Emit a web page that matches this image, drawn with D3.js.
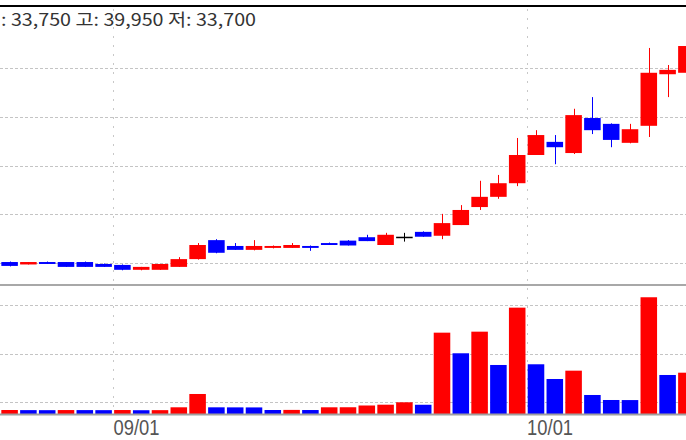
<!DOCTYPE html>
<html>
<head>
<meta charset="utf-8">
<script src="https://cdn.jsdelivr.net/npm/d3@7"></script>
<style>
body { margin: 0; background: #fff; }
svg { display: block; }
</style>
</head>
<body>
<div id="chart"></div>
<script>
//Constants for the SVG
var width = 686, height = 440;

//Trading days shown (last days of Aug, all of Sep, first days of Oct)
var dates = ["08/24", "08/25", "08/26", "08/27", "08/28", "08/31",
    "09/01", "09/02", "09/03", "09/04", "09/07", "09/08", "09/09", "09/10", "09/11",
    "09/14", "09/15", "09/16", "09/17", "09/18", "09/21", "09/22", "09/23", "09/24",
    "09/25", "09/28", "09/29", "09/30",
    "10/01", "10/05", "10/06", "10/07", "10/08", "10/09", "10/12", "10/13", "10/14"];
var openP  = [15100, 14850, 15100, 15100, 15100, 14900, 14800, 14300, 14300, 14600, 15400, 17350, 16750, 16350, 16550, 16550, 16750, 17050, 17300, 17650, 16850, 17700, 18200, 17800, 18900, 20750, 21800, 23200, 26100, 27450, 26300, 29900, 29300, 27350, 29100, 34400, 34550];
var highP  = [15150, 15100, 15150, 15100, 15150, 14950, 14850, 14600, 14900, 15600, 17050, 17450, 17050, 17350, 16800, 17050, 16800, 17100, 17350, 17900, 18100, 18100, 18250, 20050, 20950, 23450, 24050, 27850, 28650, 28150, 30850, 32050, 29350, 29300, 37100, 35350, 39950];
var lowP   = [14650, 14850, 14900, 14600, 14600, 14600, 14250, 14250, 14300, 14600, 15350, 16000, 16350, 16300, 16500, 16550, 16250, 16850, 16800, 17250, 16850, 17200, 17700, 17450, 18900, 20450, 21600, 22900, 26100, 25150, 26200, 28250, 26900, 27300, 27950, 32050, 33700];
var closeP = [14700, 15100, 14900, 14600, 14600, 14600, 14300, 14600, 14900, 15400, 16850, 16050, 16350, 16750, 16750, 16850, 16550, 16850, 16800, 17250, 17900, 17700, 17700, 19100, 20450, 21800, 23200, 26100, 28150, 26900, 30200, 28650, 27650, 28750, 34550, 34850, 37300];
var volumes = [18500, 18000, 17800, 18300, 18100, 17900, 18400, 17600, 17900, 29600, 84300, 29500, 29300, 29100, 18500, 18900, 18400, 29600, 29800, 37000, 40300, 50200, 40000, 336300, 251600, 340400, 203500, 439100, 206400, 145900, 180100, 80200, 59600, 59300, 481800, 162400, 171800];

//Grid values and labels
var priceTicks = [15000, 20000, 25000, 30000, 35000];
var volumeTicks = [50000, 250000, 450000];
var dateTicks = ["09/01", "10/01"];
//header values (open label is cut off at the left edge in the picture)
var headerLabels = ["", "고", "저"];
var headerValues = [33750, 39950, 33700];

var RED = "#ff0000", BLUE = "#0000ff";

var svg = d3.select("#chart").append("svg")
    .attr("width", width)
    .attr("height", height);

svg.append("rect").attr("width", width).attr("height", height).attr("fill", "#fff");

//scales
var x = d3.scaleBand()
    .domain(dates)
    .range([0.2, 0.2 + 18.8 * dates.length])
    .paddingInner(0.12)
    .paddingOuter(0.06);
var slotEdge = function(d) { return x(d) - x.step() * 0.06; };

var y = d3.scaleLinear().domain([15000, 35000]).range([263, 68.4]);
var yv = d3.scaleLinear().domain([0, 450000]).range([414.5, 305]);

//grid lines
var grid = svg.append("g").attr("class", "grid");
grid.selectAll("line.hp")
    .data(priceTicks)
    .enter().append("line")
    .attr("x1", 0).attr("x2", width)
    .attr("y1", function(d) { return Math.round(y(d)) + 0.5; })
    .attr("y2", function(d) { return Math.round(y(d)) + 0.5; })
    .attr("stroke", "#c4c4c4")
    .attr("stroke-dasharray", "3,2");
grid.selectAll("line.hv")
    .data(volumeTicks)
    .enter().append("line")
    .attr("x1", 0).attr("x2", width)
    .attr("y1", function(d) { return Math.round(yv(d)) + 0.5; })
    .attr("y2", function(d) { return Math.round(yv(d)) + 0.5; })
    .attr("stroke", "#c4c4c4")
    .attr("stroke-dasharray", "3,2");
grid.selectAll("line.v")
    .data(dateTicks)
    .enter().append("line")
    .attr("x1", function(d) { return Math.round(slotEdge(d)) + 0.5; })
    .attr("x2", function(d) { return Math.round(slotEdge(d)) + 0.5; })
    .attr("y1", 9).attr("y2", 414)
    .attr("stroke", "#c8c8c8")
    .attr("stroke-dasharray", "2,7");

//candles
function candleColor(i) {
    if (closeP[i] > openP[i]) return RED;
    if (closeP[i] < openP[i]) return BLUE;
    return "#000";
}
var candles = svg.append("g").attr("class", "candles")
    .selectAll("g")
    .data(dates)
    .enter().append("g");

candles.append("line")
    .attr("x1", function(d) { return Math.round(x(d) + x.bandwidth() / 2) + 0.5; })
    .attr("x2", function(d) { return Math.round(x(d) + x.bandwidth() / 2) + 0.5; })
    .attr("y1", function(d, i) { return y(highP[i]); })
    .attr("y2", function(d, i) { return y(lowP[i]); })
    .attr("stroke", function(d, i) { return candleColor(i); });

candles.append("rect")
    .attr("x", function(d) { return x(d); })
    .attr("width", x.bandwidth())
    .attr("y", function(d, i) { return y(Math.max(openP[i], closeP[i])); })
    .attr("height", function(d, i) { return Math.max(1.5, Math.abs(y(openP[i]) - y(closeP[i]))); })
    .attr("fill", function(d, i) { return candleColor(i); });

//volume bars, coloured by change against the previous day
svg.append("g").attr("class", "volume")
    .selectAll("rect")
    .data(dates)
    .enter().append("rect")
    .attr("x", function(d) { return x(d); })
    .attr("width", x.bandwidth())
    .attr("y", function(d, i) { return yv(volumes[i]); })
    .attr("height", function(d, i) { return yv(0) - yv(volumes[i]); })
    .attr("fill", function(d, i) { return (i == 0 || volumes[i] > volumes[i - 1]) ? RED : BLUE; });

//frame lines
svg.append("line").attr("x1", 0).attr("x2", width).attr("y1", 6).attr("y2", 6)
    .attr("stroke", "#000").attr("stroke-width", 2.2);
svg.append("line").attr("x1", 0).attr("x2", width).attr("y1", 285).attr("y2", 285)
    .attr("stroke", "#a8a8a8").attr("stroke-width", 2);
svg.append("line").attr("x1", 0).attr("x2", width).attr("y1", 414.5).attr("y2", 414.5)
    .attr("stroke", "#a0a0a0").attr("stroke-width", 2);

//date labels
svg.selectAll("text.date")
    .data(dateTicks)
    .enter().append("text")
    .attr("class", "date")
    .attr("x", function(d) { return slotEdge(d) + 0.5; })
    .attr("y", 435)
    .attr("textLength", 46)
    .attr("lengthAdjust", "spacingAndGlyphs")
    .attr("font-family", "'Liberation Sans', Arial, sans-serif")
    .attr("font-size", 22)
    .attr("fill", "#555")
    .text(function(d) { return d; });

//header with open / high / low
var fmt = d3.format(",");
var headerText = headerLabels.map(function(l, i) { return l + ": " + fmt(headerValues[i]); }).join(" ");
svg.append("text")
    .attr("x", 1)
    .attr("y", 26)
    .attr("textLength", 255)
    .attr("lengthAdjust", "spacingAndGlyphs")
    .attr("font-family", "'Noto Sans CJK KR', 'DejaVu Sans', sans-serif")
    .attr("font-size", 17)
    .attr("fill", "#333")
    .text(headerText);
</script>
</body>
</html>
